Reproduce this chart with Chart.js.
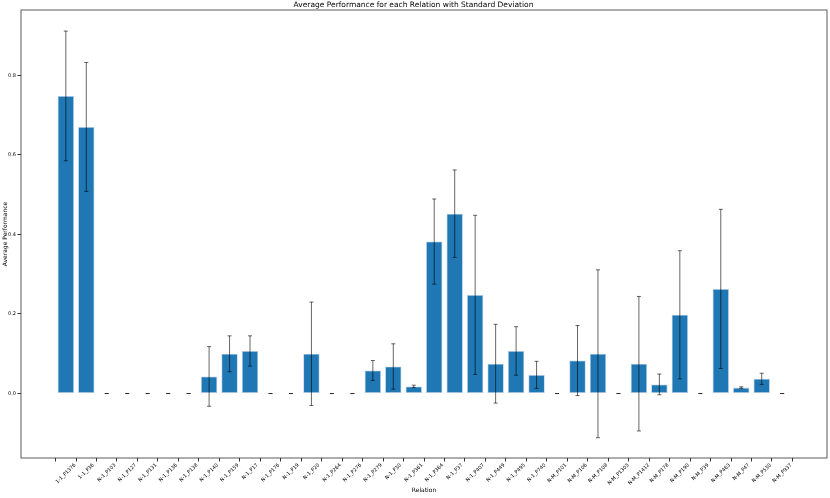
<!DOCTYPE html>
<html>
<head>
<meta charset="utf-8">
<script src="https://cdn.jsdelivr.net/npm/chart.js@4.4.0/dist/chart.umd.min.js"></script>
<style>
  body { margin: 0; background: #fff; }
  #wrap { width: 830px; height: 498px; }
</style>
</head>
<body>
<div id="wrap"><canvas id="grafik"></canvas></div>
<script>
const relasi = [
  "1-1_P1376", "1-1_P36", "N-1_P103", "N-1_P127", "N-1_P131", "N-1_P136", "N-1_P138",
  "N-1_P140", "N-1_P159", "N-1_P17", "N-1_P176", "N-1_P19", "N-1_P20", "N-1_P264",
  "N-1_P276", "N-1_P279", "N-1_P30", "N-1_P361", "N-1_P364", "N-1_P37", "N-1_P407",
  "N-1_P449", "N-1_P495", "N-1_P740", "N-M_P101", "N-M_P106", "N-M_P108", "N-M_P1303",
  "N-M_P1412", "N-M_P178", "N-M_P190", "N-M_P39", "N-M_P463", "N-M_P47", "N-M_P530", "N-M_P937"
];
const rataRata = [
  0.748, 0.670, 0, 0, 0, 0, 0,
  0.043, 0.100, 0.107, 0, 0, 0.100, 0,
  0, 0.058, 0.068, 0.018, 0.382, 0.452, 0.248,
  0.075, 0.107, 0.047, 0, 0.083, 0.100, 0,
  0.075, 0.023, 0.198, 0, 0.263, 0.015, 0.037, 0
];
const stdDev = [
  0.163, 0.162, 0, 0, 0, 0, 0,
  0.075, 0.045, 0.038, 0, 0, 0.130, 0,
  0, 0.025, 0.057, 0.003, 0.107, 0.110, 0.200,
  0.099, 0.061, 0.034, 0, 0.088, 0.211, 0,
  0.169, 0.026, 0.161, 0, 0.200, 0.002, 0.014, 0
];
const yTicks = [0, 0.2, 0.4, 0.6, 0.8];

const hurufTick = { family: "DejaVu Sans", size: 5 };
const hurufLabel = { family: "DejaVu Sans", size: 6 };

// error bar, bingkai, dan label sumbu x miring (rata tengah seperti matplotlib)
const errorBar = {
  id: "errorBar",
  afterDatasetsDraw(chart) {
    const ctx = chart.ctx;
    const x = chart.scales.x, y = chart.scales.y;
    ctx.save();
    ctx.strokeStyle = "rgba(0,0,0,0.6)";
    ctx.lineWidth = 1;
    rataRata.forEach((v, i) => {
      const px = x.getPixelForValue(i);
      const atas = y.getPixelForValue(v + stdDev[i]);
      const bawah = y.getPixelForValue(v - stdDev[i]);
      ctx.beginPath();
      ctx.moveTo(px, atas); ctx.lineTo(px, bawah);
      ctx.moveTo(px - 2, atas); ctx.lineTo(px + 2, atas);
      ctx.moveTo(px - 2, bawah); ctx.lineTo(px + 2, bawah);
      ctx.stroke();
    });
    const a = chart.chartArea;
    ctx.strokeStyle = "#333";
    ctx.lineWidth = 0.8;
    ctx.strokeRect(a.left, a.top, a.right - a.left, a.bottom - a.top);

    ctx.fillStyle = "#000";
    ctx.font = hurufTick.size + "px " + hurufTick.family;
    ctx.textAlign = "center";
    ctx.textBaseline = "middle";
    relasi.forEach((lbl, i) => {
      const px = x.getPixelForValue(i);
      const w = ctx.measureText(lbl).width;
      const h = hurufTick.size;
      const cy = a.bottom + 4.5 + (w + h) / (2 * Math.SQRT2);
      ctx.save();
      ctx.translate(px, cy);
      ctx.rotate(-Math.PI / 4);
      ctx.fillText(lbl, 0, 0);
      ctx.restore();
    });
    ctx.restore();
  }
};

new Chart(document.getElementById("grafik"), {
  type: "bar",
  data: {
    datasets: [{
      data: rataRata.map((v, i) => ({ x: i, y: v })),
      backgroundColor: "#1f77b4",
      borderColor: "rgba(174,199,232,0.9)",
      borderWidth: 0.8,
      borderSkipped: false,
      categoryPercentage: 0.8,
      barPercentage: 1.0
    }]
  },
  options: {
    responsive: true,
    maintainAspectRatio: false,
    animation: false,
    layout: { padding: { left: 0, right: 3, top: 0, bottom: 0 } },
    plugins: {
      legend: { display: false },
      tooltip: { enabled: false },
      title: {
        display: true,
        text: "Average Performance for each Relation with Standard Deviation",
        font: { family: "DejaVu Sans", size: 7.5, weight: "normal" },
        color: "#000",
        padding: { top: 1, bottom: 0 }
      }
    },
    scales: {
      x: {
        type: "linear",
        offset: false,
        min: -2.19,
        max: 37.19,
        afterBuildTicks: s => { s.ticks = relasi.map((_, i) => ({ value: i })); },
        afterFit: s => { s.height = 40; },
        ticks: { display: false, autoSkip: false },
        grid: { display: true, drawOnChartArea: false, drawTicks: true, tickLength: 3.5, color: "#333" },
        border: { display: false },
        title: { display: true, text: "Relation", font: hurufLabel, color: "#000", padding: { top: 0, bottom: 4 } }
      },
      y: {
        min: -0.162,
        max: 0.964,
        afterBuildTicks: s => { s.ticks = yTicks.map(v => ({ value: v })); },
        afterFit: s => { s.width = 21; },
        ticks: {
          padding: 1.5,
          font: hurufTick,
          color: "#000",
          callback: v => v.toFixed(1)
        },
        grid: { display: true, drawOnChartArea: false, tickLength: 3.5, color: "#333" },
        border: { display: false },
        title: { display: true, text: "Average Performance", font: hurufLabel, color: "#000", padding: { top: 2, bottom: 0 } }
      }
    }
  },
  plugins: [errorBar]
});
</script>
</body>
</html>
